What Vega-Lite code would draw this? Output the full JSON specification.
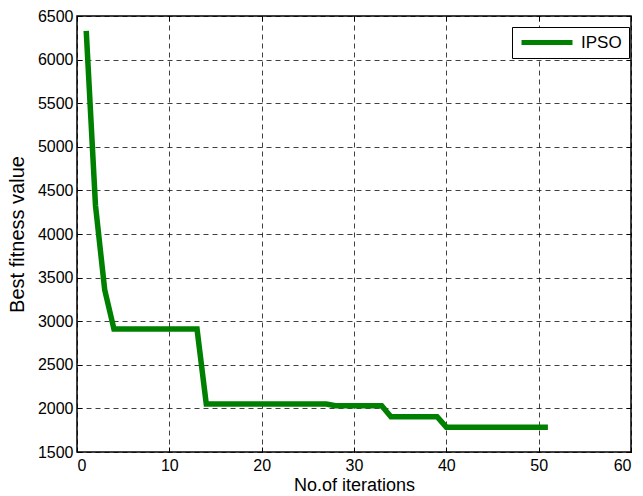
{
  "$schema": "https://vega.github.io/schema/vega-lite/v6.json",
  "width": 554,
  "height": 436,
  "autosize": {"type": "none"},
  "padding": {"left": 77, "top": 16, "right": 12, "bottom": 44},
  "background": "white",
  "config": {
    "font": "Liberation Sans",
    "view": {"stroke": "black", "strokeWidth": 1.5},
    "axis": {
      "labelFont": "Liberation Sans",
      "titleFont": "Liberation Sans",
      "labelFontSize": 16,
      "titleFontWeight": "normal",
      "labelColor": "black",
      "titleColor": "black",
      "domain": false,
      "tickColor": "black",
      "tickSize": -5,
      "gridColor": "black",
      "gridOpacity": 0.75,
      "gridDash": [5, 4],
      "gridWidth": 1
    }
  },
  "data": {
    "values": [
      {"iter": 1, "fit": 6330, "s": "IPSO"},
      {"iter": 2, "fit": 4330, "s": "IPSO"},
      {"iter": 3, "fit": 3360, "s": "IPSO"},
      {"iter": 4, "fit": 2910, "s": "IPSO"},
      {"iter": 13, "fit": 2910, "s": "IPSO"},
      {"iter": 14, "fit": 2050, "s": "IPSO"},
      {"iter": 27, "fit": 2050, "s": "IPSO"},
      {"iter": 28, "fit": 2030, "s": "IPSO"},
      {"iter": 33, "fit": 2030, "s": "IPSO"},
      {"iter": 34, "fit": 1905, "s": "IPSO"},
      {"iter": 39, "fit": 1905, "s": "IPSO"},
      {"iter": 40, "fit": 1785, "s": "IPSO"},
      {"iter": 51, "fit": 1785, "s": "IPSO"}
    ]
  },
  "layer": [
    {
      "mark": {"type": "line", "strokeWidth": 5.5, "strokeCap": "butt", "strokeJoin": "miter"},
      "encoding": {
        "x": {
          "field": "iter", "type": "quantitative",
          "scale": {"domain": [0, 60], "nice": false},
          "axis": {"orient": "bottom", "values": [0, 10, 20, 30, 40, 50, 60], "format": "d", "grid": true, "title": "No.of iterations", "titleFontSize": 18, "labelPadding": 10, "titlePadding": 3}
        },
        "y": {
          "field": "fit", "type": "quantitative",
          "scale": {"domain": [1500, 6500], "nice": false, "zero": false},
          "axis": {"orient": "left", "values": [1500, 2000, 2500, 3000, 3500, 4000, 4500, 5000, 5500, 6000, 6500], "format": "d", "grid": true, "title": "Best fitness value", "titleFontSize": 20, "labelPadding": 9, "titlePadding": 10}
        },
        "color": {
          "field": "s", "type": "nominal",
          "scale": {"domain": ["IPSO"], "range": ["#008000"]},
          "legend": {
            "title": null,
            "orient": "none",
            "legendX": 435,
            "legendY": 11,
            "strokeColor": "black",
            "fillColor": "white",
            "padding": 7,
            "symbolType": "stroke",
            "symbolSize": 2600,
            "clipHeight": 17,
            "symbolStrokeWidth": 5,
            "labelFontSize": 17,
            "labelFont": "Liberation Sans",
            "labelColor": "black",
            "labelOffset": 6
          }
        }
      }
    },
    {
      "mark": {"type": "line", "strokeOpacity": 0},
      "encoding": {
        "x": {
          "field": "iter", "type": "quantitative",
          "scale": {"domain": [0, 60], "nice": false},
          "axis": {"orient": "top", "values": [0, 10, 20, 30, 40, 50, 60], "grid": false, "labels": false, "title": null}
        },
        "y": {
          "field": "fit", "type": "quantitative",
          "scale": {"domain": [1500, 6500], "nice": false, "zero": false},
          "axis": {"orient": "right", "values": [1500, 2000, 2500, 3000, 3500, 4000, 4500, 5000, 5500, 6000, 6500], "grid": false, "labels": false, "title": null}
        }
      }
    }
  ],
  "resolve": {"axis": {"x": "independent", "y": "independent"}}
}
